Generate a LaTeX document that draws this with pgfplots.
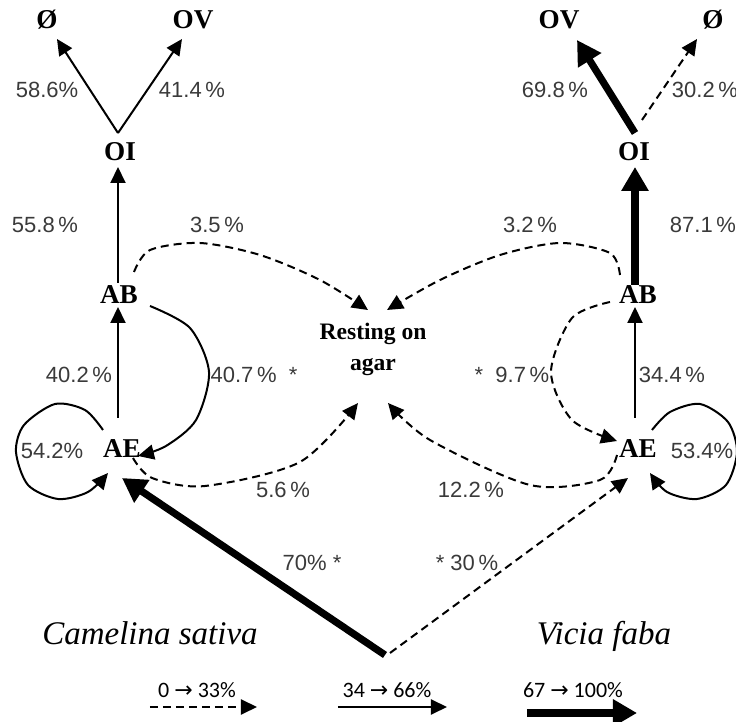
\documentclass[border=0pt]{standalone}
\usepackage{pgfplots}
\pgfplotsset{compat=1.18}
\usepackage{fontspec}
\setmainfont{Liberation Serif}
\newfontfamily\pct{Liberation Sans}
\newfontfamily\leg{Carlito}
\newfontfamily\sym{DejaVu Sans}
\usetikzlibrary{arrows.meta}
\definecolor{pg}{HTML}{3A3A3A}
\tikzset{
  thinA/.style={black, line width=1pt, -{Triangle[length=8pt,width=7.5pt]}},
  dashA/.style={black, line width=1pt, dash pattern=on 4pt off 2.5pt, -{Triangle[length=8pt,width=7.5pt]}},
  thickA/.style={black, line width=3.6pt, -{Triangle[length=12pt,width=13pt]}},
  lab/.style={font=\bfseries\fontsize{13.6}{15}\selectfont},
  pc/.style={font=\pct\fontsize{11}{12}\selectfont, text=pg, inner sep=0pt},
  lg/.style={font=\leg\fontsize{11}{12}\selectfont},
}
\begin{document}
\begin{tikzpicture}
\begin{axis}[scale only axis, width=368pt, height=361pt,
  xmin=0, xmax=736, ymin=0, ymax=722, y dir=reverse, hide axis, clip=false]
% ---------- left (Camelina sativa) ----------
\addplot[no marks, thinA] coordinates {(118,133) (57,39)};
\addplot[no marks, thinA] coordinates {(118,133) (182,39)};
\addplot[no marks, thinA] coordinates {(118,283) (118,167)};
\addplot[no marks, thinA] coordinates {(118,418) (118,307)};
\addplot[no marks, thinA, smooth] coordinates {(150,306) (190,328) (209,372) (196,420) (166,446) (138,456)};
\addplot[no marks, thinA, smooth] coordinates {(103,430) (85,410) (55,404) (24,425) (16,452) (28,485) (58,499) (88,492) (108,473)};
\addplot[no marks, dashA, smooth] coordinates {(133,458) (152,478) (205,486) (300,462) (358,403)};
\addplot[no marks, dashA, smooth] coordinates {(134,272) (150,250) (200,243) (260,255) (320,280) (368,310)};
% ---------- right (Vicia faba) ----------
\addplot[no marks, thickA] coordinates {(635,133) (577,40)};
\addplot[no marks, dashA] coordinates {(642,120) (697,39)};
\addplot[no marks, thickA] coordinates {(635,285) (635,167)};
\addplot[no marks, thinA] coordinates {(635,418) (635,307)};
\addplot[no marks, dashA, smooth] coordinates {(610,302) (572,318) (551,372) (572,420) (617,441)};
\addplot[no marks, thinA, smooth] coordinates {(652,430) (670,412) (700,404) (728,422) (737,452) (726,485) (697,499) (667,492) (650,473)};
\addplot[no marks, dashA, smooth] coordinates {(617,455) (600,480) (530,485) (430,440) (388,403)};
\addplot[no marks, dashA, smooth] coordinates {(620,275) (610,253) (560,243) (500,255) (440,280) (387,310)};
% ---------- bottom ----------
\addplot[no marks, thickA] coordinates {(385,655) (122,478)};
\addplot[no marks, dashA] coordinates {(390,653) (628,478)};
% ---------- legend arrows ----------
\addplot[no marks, dashA] coordinates {(150,707) (257,707)};
\addplot[no marks, thinA] coordinates {(338,707) (447,707)};
\addplot[no marks, thickA] coordinates {(527,713) (637,713)};
% ---------- labels ----------
\node[lab] at (axis cs:47,20) {Ø};
\node[lab] at (axis cs:193,20) {OV};
\node[lab] at (axis cs:559,20) {OV};
\node[lab] at (axis cs:713,20) {Ø};
\node[lab] at (axis cs:120,152) {OI};
\node[lab] at (axis cs:634,152) {OI};
\node[lab] at (axis cs:119,295) {AB};
\node[lab] at (axis cs:638,295) {AB};
\node[lab] at (axis cs:122,449) {AE};
\node[lab] at (axis cs:638,449) {AE};
\node[font=\bfseries\fontsize{11.8}{15.5}\selectfont, align=center] at (axis cs:373,349) {Resting on\\agar};
\node[pc] at (axis cs:47,90) {58.6\%};
\node[pc] at (axis cs:192,90) {41.4\,\%};
\node[pc] at (axis cs:555,90) {69.8\,\%};
\node[pc] at (axis cs:705,90) {30.2\,\%};
\node[pc] at (axis cs:45,225) {55.8\,\%};
\node[pc] at (axis cs:217,225) {3.5\,\%};
\node[pc] at (axis cs:530,225) {3.2\,\%};
\node[pc] at (axis cs:703,225) {87.1\,\%};
\node[pc] at (axis cs:79,375) {40.2\,\%};
\node[pc] at (axis cs:254,375) {40.7\,\%\ \ *};
\node[pc] at (axis cs:52,451) {54.2\%};
\node[pc] at (axis cs:512,375) {*\ \ 9.7\,\%};
\node[pc] at (axis cs:672,375) {34.4\,\%};
\node[pc] at (axis cs:702,451) {53.4\%};
\node[pc] at (axis cs:283,490) {5.6\,\%};
\node[pc] at (axis cs:471,490) {12.2\,\%};
\node[pc] at (axis cs:312,563) {70\%\ *};
\node[pc] at (axis cs:467,563) {*\ 30\,\%};
\node[font=\itshape\fontsize{16.5}{20}\selectfont, anchor=base] at (axis cs:150,645) {Camelina sativa};
\node[font=\itshape\fontsize{16.5}{20}\selectfont, anchor=base] at (axis cs:604,645) {Vicia faba};
\node[lg] at (axis cs:197,690) {0 {\sym→} 33\%};
\node[lg] at (axis cs:387,690) {34 {\sym→} 66\%};
\node[lg] at (axis cs:573,690) {67 {\sym→} 100\%};
\end{axis}
\pgfresetboundingbox
\useasboundingbox (current axis.south west) rectangle (current axis.north east);
\end{tikzpicture}
\end{document}
